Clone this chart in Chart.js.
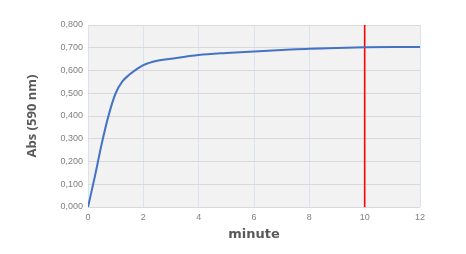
<!DOCTYPE html>
<html>
<head>
<meta charset="utf-8">
<script src="https://cdn.jsdelivr.net/npm/chart.js@4/dist/chart.umd.min.js"></script>
<style>
  html, body { margin: 0; padding: 0; background: #fff; }
  #wrap { width: 466px; height: 254px; }
</style>
</head>
<body>
<div id="wrap"><canvas id="chartAbs"></canvas></div>
<script>
const minutes = [0, 0.25, 0.5, 0.75, 1, 1.25, 1.5, 1.75, 2, 2.5, 3, 4, 5, 6, 7, 8, 9, 10, 11, 12];
const absValues = [0, 0.135, 0.28, 0.405, 0.50, 0.553, 0.582, 0.605, 0.624, 0.643, 0.652, 0.668, 0.677, 0.684, 0.690, 0.696, 0.699, 0.702, 0.703, 0.703];
const markerX = [10, 10];
const markerY = [0, 0.8];

const plotBg = {
    id: 'plotBg',
    beforeDraw(chart) {
        const { ctx, chartArea: a } = chart;
        ctx.save();
        ctx.fillStyle = '#f2f2f2';
        ctx.fillRect(a.left, a.top, a.right - a.left, a.bottom - a.top);
        ctx.restore();
    }
};

const ctx = document.getElementById('chartAbs').getContext('2d');
new Chart(ctx, {
    type: 'line',
    data: {
        datasets: [
            {
                label: 'Abs',
                data: minutes.map((x, i) => ({ x: x, y: absValues[i] })),
                borderColor: '#4472c4',
                borderWidth: 2,
                pointRadius: 0,
                tension: 0.4,
                cubicInterpolationMode: 'monotone',
                fill: false
            },
            {
                label: '10 min',
                data: markerX.map((x, i) => ({ x: x, y: markerY[i] })),
                borderColor: '#ff0000',
                borderWidth: 1.6,
                pointRadius: 0,
                fill: false
            }
        ]
    },
    options: {
        responsive: true,
        maintainAspectRatio: false,
        animation: false,
        layout: { padding: { left: 24, top: 25, right: 46, bottom: 12 } },
        plugins: {
            legend: { display: false },
            tooltip: { enabled: false }
        },
        scales: {
            x: {
                type: 'linear',
                min: 0,
                max: 12,
                ticks: {
                    stepSize: 2,
                    color: '#808080',
                    font: { family: 'Liberation Sans', size: 9 },
                    padding: 5
                },
                grid: { color: '#dae3f3', drawTicks: false },
                border: { display: false },
                title: {
                    display: true,
                    text: 'minute',
                    color: '#595959',
                    font: { family: 'DejaVu Sans', size: 13, weight: 'bold' },
                    padding: { top: 4, bottom: 0 }
                },
                afterFit(scale) { scale.height = 35; }
            },
            y: {
                min: 0,
                max: 0.8,
                ticks: {
                    stepSize: 0.1,
                    color: '#808080',
                    font: { family: 'Liberation Sans', size: 9 },
                    padding: 5,
                    callback: v => v.toFixed(3).replace('.', ',')
                },
                grid: { color: '#d9d9d9', drawTicks: false },
                border: { display: false },
                title: {
                    display: true,
                    text: 'Abs (590 nm)',
                    color: '#595959',
                    font: { family: 'Open Sans', size: 13, weight: 'bold' },
                    padding: { top: 0, bottom: 0 }
                },
                afterFit(scale) { scale.width = 64; }
            }
        }
    },
    plugins: [plotBg]
});
</script>
</body>
</html>
